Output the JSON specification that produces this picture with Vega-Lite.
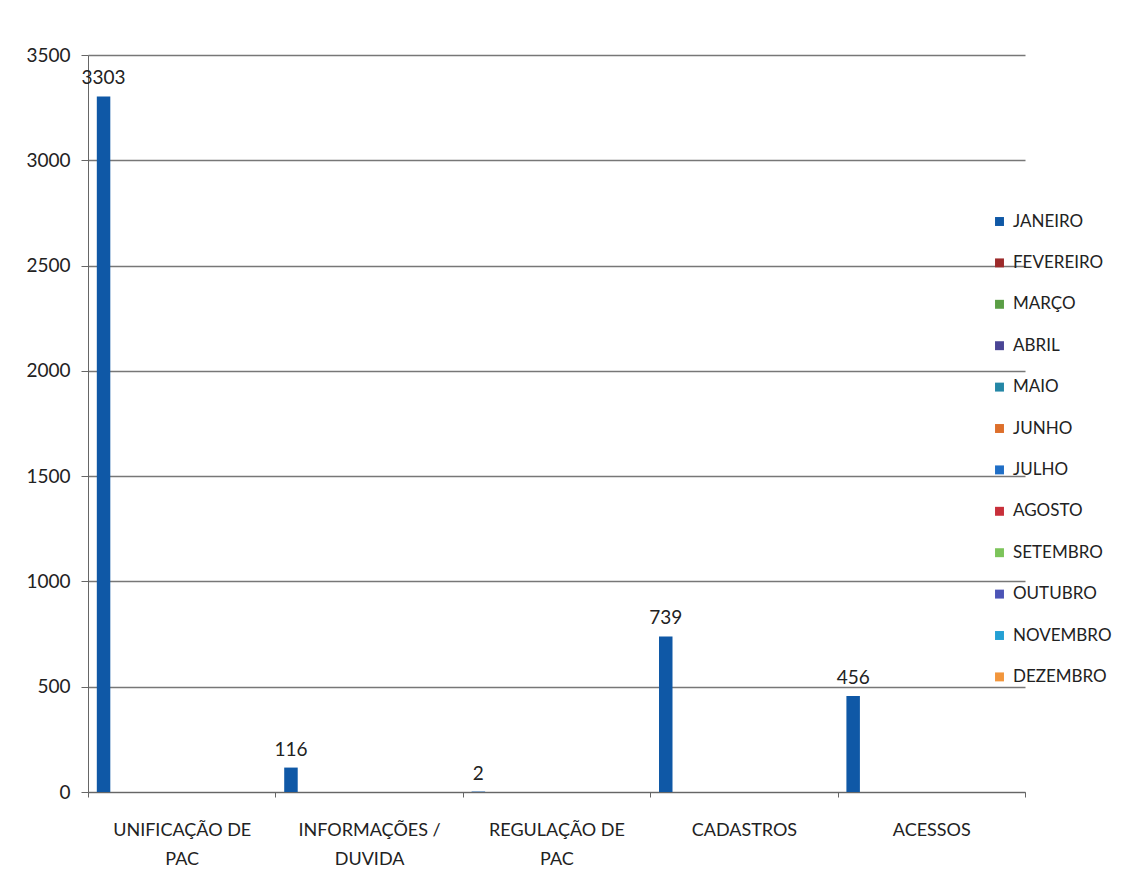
{
  "$schema": "https://vega.github.io/schema/vega-lite/v6.json",
  "width": 937,
  "height": 737,
  "autosize": {"type": "none"},
  "padding": {"left": 88, "top": 55, "right": 115, "bottom": 82},
  "background": "white",
  "config": {
    "font": "Lato",
    "view": {"stroke": null},
    "axis": {"labelFont": "Lato", "labelColor": "#222222", "labelFontSize": 18}
  },
  "data": {
    "values": [
      {"categoria": "UNIFICAÇÃO DE PAC", "mes": "JANEIRO", "valor": 3303},
      {"categoria": "INFORMAÇÕES / DUVIDA", "mes": "JANEIRO", "valor": 116},
      {"categoria": "REGULAÇÃO DE PAC", "mes": "JANEIRO", "valor": 2},
      {"categoria": "CADASTROS", "mes": "JANEIRO", "valor": 739},
      {"categoria": "ACESSOS", "mes": "JANEIRO", "valor": 456}
    ]
  },
  "encoding": {
    "x": {
      "field": "categoria",
      "type": "nominal",
      "sort": null,
      "scale": {"domain": ["UNIFICAÇÃO DE PAC", "INFORMAÇÕES / DUVIDA", "REGULAÇÃO DE PAC", "CADASTROS", "ACESSOS"], "paddingInner": 0, "paddingOuter": 0},
      "axis": {
        "title": null,
        "labelAngle": 0,
        "bandPosition": 0,
        "tickBand": "extent",
        "domainColor": "#666666",
        "tickColor": "#666666",
        "tickSize": 5,
        "labelPadding": 24,
        "labelLineHeight": 29,
        "labelBaseline": "top",
        "labelExpr": "datum.value == 'UNIFICAÇÃO DE PAC' ? ['UNIFICAÇÃO DE', 'PAC'] : datum.value == 'INFORMAÇÕES / DUVIDA' ? ['INFORMAÇÕES /', 'DUVIDA'] : datum.value == 'REGULAÇÃO DE PAC' ? ['REGULAÇÃO DE', 'PAC'] : datum.value"
      }
    },
    "xOffset": {
      "field": "mes",
      "type": "nominal",
      "scale": {"domain": ["JANEIRO", "FEVEREIRO", "MARÇO", "ABRIL", "MAIO", "JUNHO", "JULHO", "AGOSTO", "SETEMBRO", "OUTUBRO", "NOVEMBRO", "DEZEMBRO"], "paddingInner": 0.05, "paddingOuter": 0.62}
    },
    "y": {
      "field": "valor",
      "type": "quantitative",
      "scale": {"domain": [0, 3500]},
      "axis": {
        "title": null,
        "values": [0, 500, 1000, 1500, 2000, 2500, 3000, 3500],
        "format": "d",
        "labelFontSize": 19,
        "gridColor": "#777777",
        "gridWidth": 1.3,
        "domainColor": "#666666",
        "tickColor": "#666666",
        "tickSize": 7,
        "labelPadding": 11
      }
    }
  },
  "layer": [
    {
      "mark": {"type": "bar"},
      "encoding": {
        "color": {
          "field": "mes",
          "type": "nominal",
          "scale": {
            "domain": ["JANEIRO", "FEVEREIRO", "MARÇO", "ABRIL", "MAIO", "JUNHO", "JULHO", "AGOSTO", "SETEMBRO", "OUTUBRO", "NOVEMBRO", "DEZEMBRO"],
            "range": ["#0f58a6", "#9c2a2a", "#5a9e45", "#4a4595", "#2487a6", "#dd6f2b", "#1f6ec6", "#c82f3a", "#7cc45a", "#4c54b6", "#24a0d4", "#f2963c"]
          },
          "legend": {
            "title": null,
            "orient": "none",
            "legendX": 903,
            "legendY": 158,
            "symbolType": "square",
            "symbolSize": 80,
            "symbolStrokeWidth": 0,
            "labelFontSize": 17,
            "labelColor": "#222222",
            "labelOffset": 5,
            "rowPadding": 23.4
          }
        }
      }
    },
    {
      "mark": {"type": "text", "baseline": "bottom", "dy": -8, "fontSize": 19, "color": "#222222"},
      "encoding": {
        "text": {"field": "valor", "type": "quantitative"}
      }
    }
  ]
}
